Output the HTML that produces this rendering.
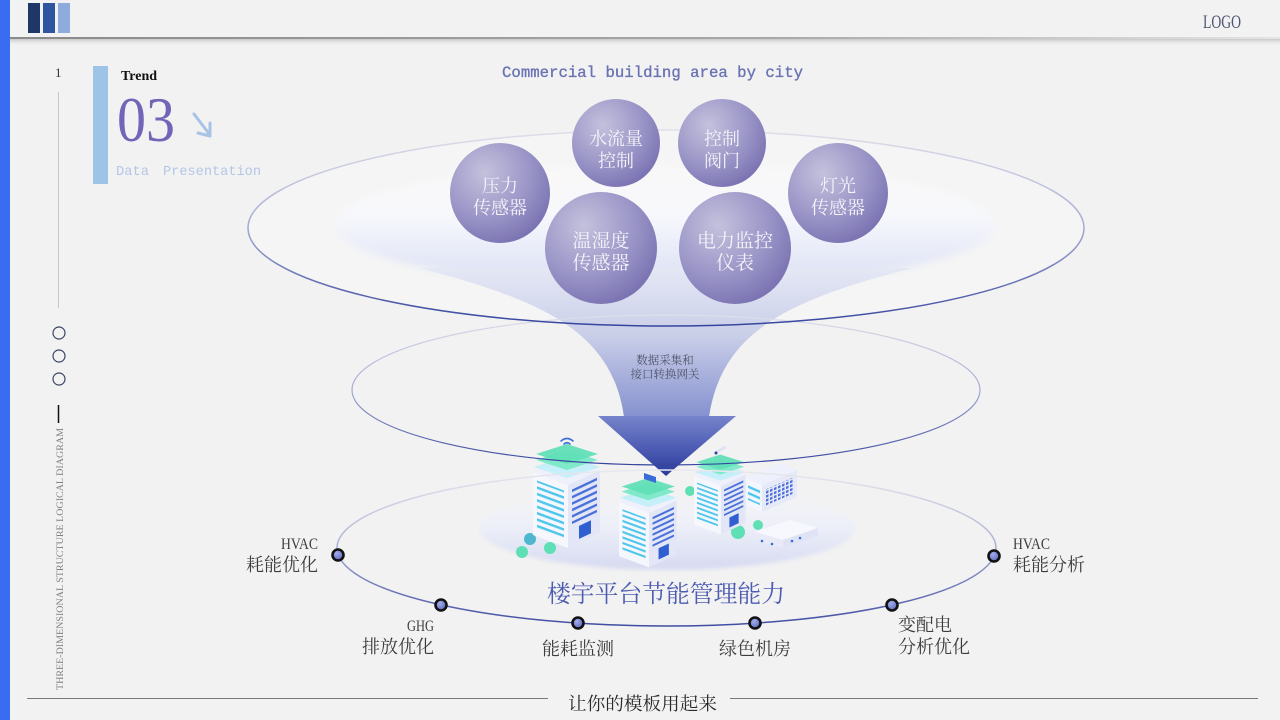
<!DOCTYPE html>
<html><head><meta charset="utf-8"><style>
html,body{margin:0;padding:0;background:#f2f2f2;}
svg{display:block;}
.sf{font-family:"Liberation Serif","Noto Serif CJK SC",serif;}
.mo{font-family:"Liberation Mono","Noto Sans CJK SC",monospace;}
</style></head><body>
<svg width="1280" height="720" viewBox="0 0 1280 720" xmlns="http://www.w3.org/2000/svg">
<defs>
  <linearGradient id="hdr" x1="0" y1="0" x2="1" y2="0">
    <stop offset="0" stop-color="#8a8a8a"/><stop offset="0.6" stop-color="#a8a8a8"/><stop offset="1" stop-color="#e4e4e4"/>
  </linearGradient>
  <linearGradient id="hdrs" x1="0" y1="0" x2="0" y2="1">
    <stop offset="0" stop-color="#c8c8c8"/><stop offset="1" stop-color="#f2f2f2" stop-opacity="0"/>
  </linearGradient>
  <linearGradient id="elS" x1="0" y1="0" x2="0" y2="1">
    <stop offset="0" stop-color="#dedfea"/><stop offset="0.5" stop-color="#a4a9d2"/><stop offset="1" stop-color="#35449e"/>
  </linearGradient>
  <linearGradient id="ringS" x1="0" y1="0" x2="0" y2="1">
    <stop offset="0" stop-color="#e8e8ef"/><stop offset="0.45" stop-color="#b0b4d6"/><stop offset="1" stop-color="#3f4ca2"/>
  </linearGradient>
  <linearGradient id="inner" x1="0" y1="0" x2="0" y2="1">
    <stop offset="0" stop-color="#ffffff" stop-opacity="0.2"/><stop offset="0.45" stop-color="#f6f7fc"/><stop offset="1" stop-color="#d9def4"/>
  </linearGradient>
  <linearGradient id="fun" x1="0" y1="270" x2="0" y2="417" gradientUnits="userSpaceOnUse">
    <stop offset="0" stop-color="#e4e7f4"/><stop offset="0.45" stop-color="#c9cee8"/><stop offset="1" stop-color="#8591cf"/>
  </linearGradient>
  <linearGradient id="arw" x1="0" y1="416" x2="0" y2="476" gradientUnits="userSpaceOnUse">
    <stop offset="0" stop-color="#7684cc"/><stop offset="1" stop-color="#2a3a9c"/>
  </linearGradient>
  <radialGradient id="ball" cx="0.35" cy="0.3" r="0.8">
    <stop offset="0" stop-color="#c4c1dd"/><stop offset="0.6" stop-color="#9792c5"/><stop offset="1" stop-color="#746cae"/>
  </radialGradient>
  <linearGradient id="plat" x1="0" y1="0" x2="0" y2="1">
    <stop offset="0" stop-color="#f4f5fa" stop-opacity="0"/><stop offset="0.45" stop-color="#eef0f9"/><stop offset="1" stop-color="#d6daf1"/>
  </linearGradient>
  <radialGradient id="node" cx="0.4" cy="0.35" r="0.7">
    <stop offset="0" stop-color="#a3acea"/><stop offset="1" stop-color="#5a66bf"/>
  </radialGradient>
  <pattern id="stL" width="10" height="6.4" patternUnits="userSpaceOnUse"><rect width="10" height="2.6" fill="#4fc6ec"/></pattern>
  <pattern id="stR" width="10" height="6.4" patternUnits="userSpaceOnUse"><rect width="10" height="2.6" fill="#4a70da"/></pattern>
  <pattern id="grid" width="4" height="4" patternUnits="userSpaceOnUse"><rect width="2.5" height="2.5" fill="#4a70da"/></pattern>
  <filter id="bl4" x="-20%" y="-50%" width="140%" height="200%"><feGaussianBlur stdDeviation="4"/></filter>
  <filter id="bl2" x="-20%" y="-50%" width="140%" height="200%"><feGaussianBlur stdDeviation="2"/></filter>
  <g id="bld">
    <g transform="matrix(1,0.37,0,1,0,0)"><rect width="35" height="63" fill="#f6f7fd"/><rect x="4" y="7" width="27" height="48" fill="url(#stL)"/></g>
    <g transform="matrix(1,-0.47,0,1,35,13)"><rect width="32" height="63" fill="#e2e6f7"/><rect x="4" y="5" width="25" height="36" fill="url(#stR)"/><rect x="11" y="46" width="12" height="13" fill="#2f5fd0"/></g>
    <polygon points="0,0 35,13 67,-2 32,-15" fill="#eef0fb"/>
    <polygon points="1,-5 34,-16 67,-5 34,6" fill="#bdeff8" opacity="0.85"/>
    <polygon points="3,-12 34,-22 65,-12 34,-2" fill="#7fe9c9"/>
    <polygon points="3,-18 34,-28 65,-18 34,-8" fill="#5fe0b6" opacity="0.92"/>
  </g>
</defs>

<rect width="1280" height="720" fill="#f2f2f2"/>

<!-- header -->
<rect x="10" y="39" width="1270" height="7" fill="url(#hdrs)"/>
<rect x="10" y="37" width="1270" height="2" fill="url(#hdr)"/>
<rect x="28" y="3" width="12" height="30" fill="#1e3768"/>
<rect x="43" y="3" width="12" height="30" fill="#2e559e"/>
<rect x="58" y="3" width="12" height="30" fill="#8eabdd"/>
<text x="1203" y="28" class="sf" font-size="19" fill="#4e5570" textLength="38" lengthAdjust="spacingAndGlyphs">LOGO</text>
<rect x="0" y="0" width="10" height="720" fill="#3a6cf2"/>

<!-- left column -->
<text x="55" y="77" class="sf" font-size="13" fill="#333">1</text>
<line x1="58.5" y1="92" x2="58.5" y2="308" stroke="#c8c8c8" stroke-width="1"/>
<circle cx="59" cy="333" r="6" fill="none" stroke="#3a4466" stroke-width="1.2"/>
<circle cx="59" cy="356" r="6" fill="none" stroke="#3a4466" stroke-width="1.2"/>
<circle cx="59" cy="379" r="6" fill="none" stroke="#3a4466" stroke-width="1.2"/>
<line x1="58.5" y1="405" x2="58.5" y2="423" stroke="#111" stroke-width="1.5"/>
<text transform="translate(63,690) rotate(-90)" class="sf" font-size="9.5" fill="#808080" textLength="262" lengthAdjust="spacingAndGlyphs">THREE-DIMENSIONAL STRUCTURE LOGICAL DIAGRAM</text>

<!-- title block -->
<rect x="93" y="66" width="15" height="118" fill="#9dc3e7"/>
<text x="121" y="80" class="sf" font-size="14" font-weight="bold" fill="#111">Trend</text>
<text x="117" y="141" class="sf" font-size="64" fill="#7464b8" textLength="58" lengthAdjust="spacingAndGlyphs">03</text>
<g stroke="#a9c3e6" stroke-width="3" fill="none" stroke-linecap="round" stroke-linejoin="round">
  <line x1="194" y1="114" x2="210" y2="135"/>
  <polyline points="210,123 210,136 198,133"/>
</g>
<text x="116" y="175" class="mo" font-size="14" fill="#b3c6e6" textLength="33" lengthAdjust="spacingAndGlyphs">Data</text>
<text x="163" y="175" class="mo" font-size="14" fill="#b3c6e6" textLength="98" lengthAdjust="spacingAndGlyphs">Presentation</text>

<text x="502" y="77" class="mo" font-size="16" fill="#6a73b3" stroke="#6a73b3" stroke-width="0.35" textLength="301" lengthAdjust="spacingAndGlyphs">Commercial building area by city</text>

<!-- top ellipse fill + inner -->
<ellipse cx="666" cy="228" rx="418" ry="98" fill="#ffffff" opacity="0.25"/>
<ellipse cx="665" cy="225" rx="330" ry="62" fill="url(#inner)" filter="url(#bl4)"/>

<!-- funnel body -->
<path d="M420,268 C540,300 612,330 624,417 L709,417 C722,330 790,300 912,268 Z" fill="url(#fun)"/>

<!-- platform -->
<ellipse cx="667" cy="528" rx="188" ry="42" fill="url(#plat)" filter="url(#bl2)"/>

<!-- buildings -->
<polygon points="746,478 762,485 762,512 746,505" fill="#f4f6fd"/>
<g transform="matrix(1,0.44,0,1,746,478)"><rect x="2" y="5" width="12" height="16" fill="url(#stL)"/></g>
<polygon points="762,485 797,470 797,497 762,512" fill="#e6e9f7"/>
<g transform="matrix(1,-0.43,0,1,762,485)"><rect x="3" y="6" width="29" height="16" fill="url(#grid)"/></g>
<polygon points="746,478 762,485 797,470 781,463" fill="#eef0fb"/>
<polygon points="755,532 790,520 818,528 783,540" fill="#f7f8fe"/>
<polygon points="755,532 783,540 783,548 755,540" fill="#e8ebf7"/>
<polygon points="783,540 818,528 818,536 783,548" fill="#dfe3f5"/>
<circle cx="762" cy="541" r="1.3" fill="#3a6cd8"/><circle cx="772" cy="544" r="1.3" fill="#3a6cd8"/><circle cx="792" cy="541" r="1.3" fill="#3a6cd8"/><circle cx="800" cy="538" r="1.3" fill="#3a6cd8"/>
<circle cx="530" cy="539" r="6" fill="#4fb6cf"/>
<circle cx="550" cy="548" r="6" fill="#5ee0b4"/>
<circle cx="522" cy="552" r="6" fill="#5ee0b4"/>
<circle cx="690" cy="491" r="5" fill="#5ee0b4"/>
<circle cx="738" cy="532" r="7" fill="#5ee0b4"/>
<circle cx="758" cy="525" r="5" fill="#5ee0b4"/>

<use href="#bld" transform="translate(533,472)"/>
<g fill="none" stroke="#3f6fd8" stroke-width="1.6" stroke-linecap="round">
  <path d="M561,441 q6,-5 12,0"/><path d="M564,444 q3,-2.5 6,0"/>
</g>
<use href="#bld" transform="translate(694,476) scale(0.77)"/>
<line x1="716" y1="452" x2="726" y2="447" stroke="#dfe3f5" stroke-width="3"/>
<circle cx="716" cy="453" r="1.5" fill="#2b3d9e"/>
<use href="#bld" transform="translate(619,502) scale(0.86)"/>
<polygon points="644,473 656,477 656,483 644,479" fill="#3a6cd8"/>

<!-- arrowhead -->
<polygon points="598,416 736,416 666,476" fill="url(#arw)"/>

<text x="665" y="364" text-anchor="middle" class="sf" font-size="11.5" fill="#4f5468">数据采集和</text>
<text x="665" y="378" text-anchor="middle" class="sf" font-size="11.5" fill="#4f5468">接口转换网关</text>

<!-- middle ellipse -->
<ellipse cx="666" cy="390" rx="314" ry="75" fill="none" stroke="url(#elS)" stroke-width="1.2"/>
<!-- top ellipse -->
<ellipse cx="666" cy="228" rx="418" ry="98" fill="none" stroke="url(#elS)" stroke-width="1.5"/>

<!-- sensor balls -->
<g class="sf" fill="#f3f3f9" text-anchor="middle">
  <circle cx="500" cy="193" r="50" fill="url(#ball)"/>
  <text x="500" y="192" font-size="18">压力</text><text x="500" y="214" font-size="18">传感器</text>
  <circle cx="616" cy="143" r="44" fill="url(#ball)"/>
  <text x="616" y="145" font-size="18">水流量</text><text x="616" y="167" font-size="18">控制</text>
  <circle cx="722" cy="143" r="44" fill="url(#ball)"/>
  <text x="722" y="145" font-size="18">控制</text><text x="722" y="167" font-size="18">阀门</text>
  <circle cx="838" cy="193" r="50" fill="url(#ball)"/>
  <text x="838" y="192" font-size="18">灯光</text><text x="838" y="214" font-size="18">传感器</text>
  <circle cx="601" cy="248" r="56" fill="url(#ball)"/>
  <text x="601" y="247" font-size="19">温湿度</text><text x="601" y="269" font-size="19">传感器</text>
  <circle cx="735" cy="248" r="56" fill="url(#ball)"/>
  <text x="735" y="247" font-size="19">电力监控</text><text x="735" y="269" font-size="19">仪表</text>
</g>

<!-- ring -->
<ellipse cx="666.5" cy="548" rx="329.5" ry="78" fill="none" stroke="url(#ringS)" stroke-width="1.5"/>
<g fill="url(#node)" stroke="#111" stroke-width="2.6">
  <circle cx="338" cy="555" r="5.5"/>
  <circle cx="441" cy="605" r="5.5"/>
  <circle cx="578" cy="623" r="5.5"/>
  <circle cx="755" cy="623" r="5.5"/>
  <circle cx="892" cy="605" r="5.5"/>
  <circle cx="994" cy="556" r="5.5"/>
</g>

<text x="666" y="602" text-anchor="middle" class="sf" font-size="24" fill="#4d5bb0" textLength="238" lengthAdjust="spacingAndGlyphs">楼宇平台节能管理能力</text>

<g class="sf" fill="#3c3c3c">
  <text x="318" y="549" text-anchor="end" font-size="16" textLength="37" lengthAdjust="spacingAndGlyphs">HVAC</text>
  <text x="318" y="571" text-anchor="end" font-size="18">耗能优化</text>
  <text x="434" y="631" text-anchor="end" font-size="16" textLength="27" lengthAdjust="spacingAndGlyphs">GHG</text>
  <text x="434" y="653" text-anchor="end" font-size="18">排放优化</text>
  <text x="578" y="655" text-anchor="middle" font-size="18">能耗监测</text>
  <text x="755" y="655" text-anchor="middle" font-size="18">绿色机房</text>
  <text x="898" y="631" font-size="18">变配电</text>
  <text x="898" y="653" font-size="18">分析优化</text>
  <text x="1013" y="549" font-size="16" textLength="37" lengthAdjust="spacingAndGlyphs">HVAC</text>
  <text x="1013" y="571" font-size="18">耗能分析</text>
</g>

<!-- footer -->
<line x1="27" y1="698.5" x2="548" y2="698.5" stroke="#7a7a7a" stroke-width="1"/>
<line x1="730" y1="698.5" x2="1258" y2="698.5" stroke="#7a7a7a" stroke-width="1"/>
<text x="568" y="710" class="sf" font-size="18" fill="#2a2a2a" textLength="149" lengthAdjust="spacingAndGlyphs">让你的模板用起来</text>
</svg>
</body></html>
